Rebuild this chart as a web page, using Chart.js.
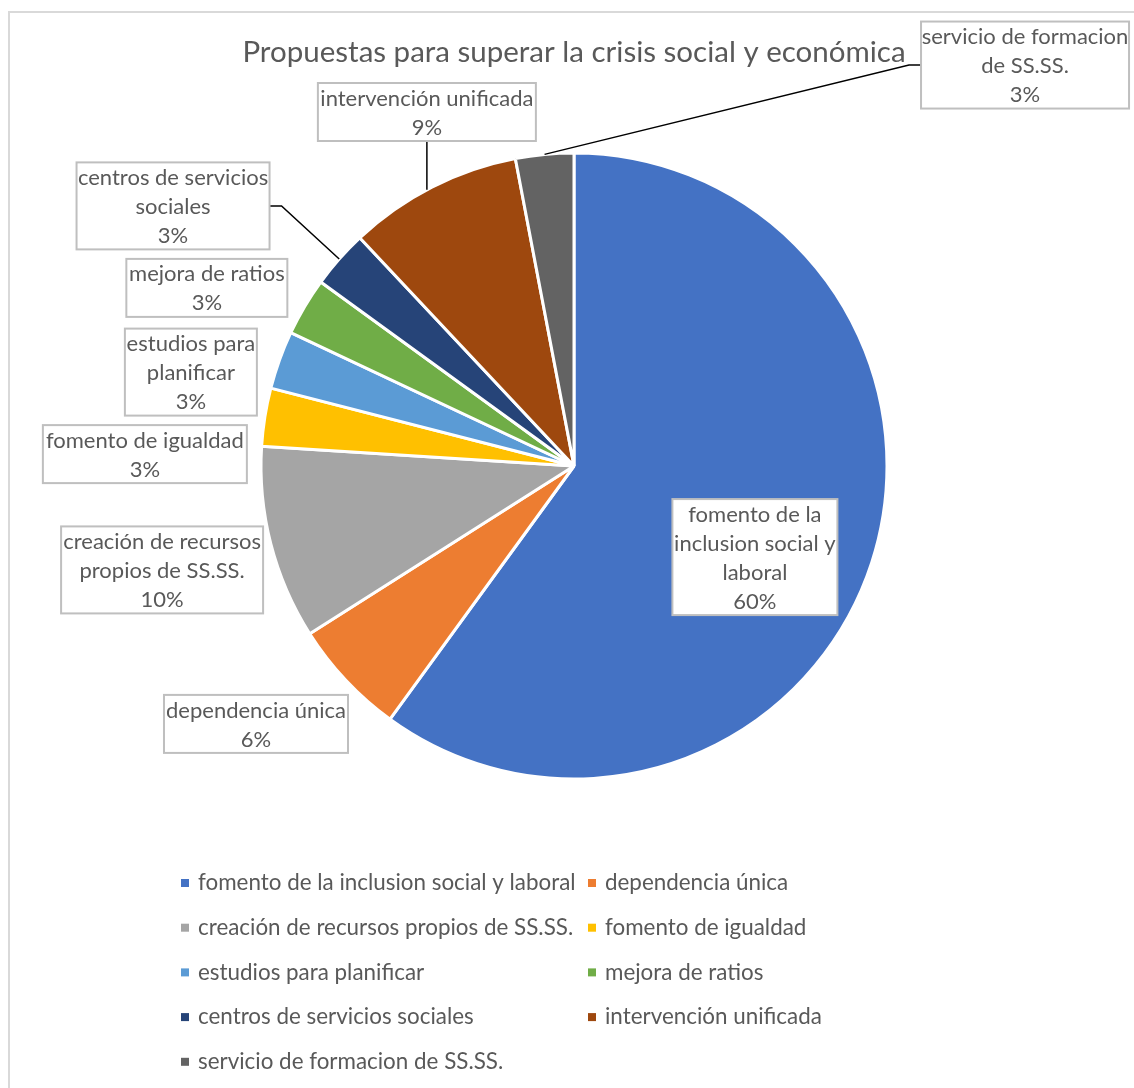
<!DOCTYPE html>
<html>
<head>
<meta charset="utf-8">
<script src="https://cdn.jsdelivr.net/npm/chart.js@4/dist/chart.umd.min.js"></script>
<style>
  html, body { margin: 0; padding: 0; background: #fff; }
</style>
</head>
<body>
<canvas id="pieChart" width="1134" height="1088"></canvas>
<script>
const titulo = "Propuestas para superar la crisis social y económica";
const categorias = [
    "fomento de la inclusion social y laboral",
    "dependencia única",
    "creación de recursos propios de SS.SS.",
    "fomento de igualdad",
    "estudios para planificar",
    "mejora de ratios",
    "centros de servicios sociales",
    "intervención unificada",
    "servicio de formacion de SS.SS."
];
const porcentajes = [60, 6, 10, 3, 3, 3, 3, 9, 3];
const colores = [
    "#4472C4", "#ED7D31", "#A5A5A5", "#FFC000", "#5B9BD5",
    "#70AD47", "#264478", "#9E480E", "#636363"
];

// cajas de etiqueta: centro relativo al radio, ancho, palabras por línea, tipo de guía
const cajas = [
    { dx: 0.578, dy: 0.291, w: 165, lineas: [3, 3, 1], guia: null },
    { dx: -1.016, dy: 0.824, w: 184, lineas: [2], guia: null },
    { dx: -1.316, dy: 0.332, w: 202, lineas: [3, 3], guia: null },
    { dx: -1.371, dy: -0.038, w: 204, lineas: [3], guia: null },
    { dx: -1.224, dy: -0.300, w: 132, lineas: [2, 1], guia: null },
    { dx: -1.173, dy: -0.569, w: 161, lineas: [3], guia: null },
    { dx: -1.281, dy: -0.831, w: 193, lineas: [3, 1], guia: "der" },
    { dx: -0.470, dy: -1.131, w: 218, lineas: [2], guia: "abajo" },
    { dx: 1.441, dy: -1.281, w: 208, lineas: [3, 2], guia: "izq" }
];

const FUENTE = "Lato, 'Open Sans', sans-serif";
const GRIS_TEXTO = "#595959";
const ALTO_LINEA = 29;

function partirLineas(texto, cortes) {
    const palabras = texto.split(" ");
    const out = [];
    let k = 0;
    cortes.forEach(n => {
        out.push(palabras.slice(k, k + n).join(" "));
        k += n;
    });
    return out;
}

const etiquetasPlugin = {
    id: "etiquetas",
    beforeDraw(chart) {
        const ctx = chart.ctx;
        ctx.save();
        ctx.strokeStyle = "#d9d9d9";
        ctx.lineWidth = 2;
        ctx.strokeRect(9, 12, 2000, 2000);
        ctx.fillStyle = GRIS_TEXTO;
        ctx.font = "29.5px " + FUENTE;
        ctx.textAlign = "center";
        ctx.textBaseline = "middle";
        ctx.fillText(titulo, 574, 52);
        ctx.restore();
    },
    afterDatasetsDraw(chart) {
        const ctx = chart.ctx;
        const meta = chart.getDatasetMeta(0);
        const datos = chart.data.datasets[0].data;
        const total = datos.reduce((a, b) => a + b, 0);
        ctx.save();
        meta.data.forEach((arc, i) => {
            const { x, y, outerRadius: r, startAngle, endAngle } = arc.getProps(["x", "y", "outerRadius", "startAngle", "endAngle"], true);
            const c = cajas[i];
            const lineas = partirLineas(chart.data.labels[i], c.lineas);
            lineas.push(Math.round(datos[i] / total * 100) + "%");
            const h = lineas.length * ALTO_LINEA;
            const bx = x + c.dx * r - c.w / 2;
            const by = y + c.dy * r - h / 2;

            // línea guía hacia el borde del sector
            if (c.guia) {
                const mid = (startAngle + endAngle) / 2;
                ctx.strokeStyle = "#000";
                ctx.lineWidth = 1.5;
                ctx.beginPath();
                if (c.guia === "abajo") {
                    const ax = bx + c.w / 2;
                    const ddx = ax - x;
                    ctx.moveTo(ax, by + h);
                    ctx.lineTo(ax, y - Math.sqrt(r * r - ddx * ddx));
                } else {
                    const lado = c.guia === "der" ? 1 : -1;
                    const ax = c.guia === "der" ? bx + c.w : bx;
                    const ay = by + h / 2;
                    ctx.moveTo(ax, ay);
                    ctx.lineTo(ax + lado * 12, ay);
                    ctx.lineTo(x + Math.cos(mid) * r, y + Math.sin(mid) * r);
                }
                ctx.stroke();
            }

            ctx.fillStyle = "#fff";
            ctx.fillRect(bx, by, c.w, h);
            ctx.strokeStyle = "#bfbfbf";
            ctx.lineWidth = 2;
            ctx.strokeRect(bx, by, c.w, h);

            ctx.fillStyle = GRIS_TEXTO;
            ctx.font = "22px " + FUENTE;
            ctx.textAlign = "center";
            ctx.textBaseline = "middle";
            lineas.forEach((t, j) => {
                ctx.fillText(t, bx + c.w / 2, by + ALTO_LINEA * (j + 0.5) + 1);
            });
        });
        ctx.restore();
    },
    afterDraw(chart) {
        // leyenda en dos columnas
        const ctx = chart.ctx;
        const fondos = chart.data.datasets[0].backgroundColor;
        ctx.save();
        ctx.font = "22.4px " + FUENTE;
        ctx.textBaseline = "middle";
        ctx.textAlign = "left";
        chart.data.labels.forEach((lab, i) => {
            const col = i % 2;
            const fila = Math.floor(i / 2);
            const tx = col === 0 ? 198 : 605;
            const ty = 883 + fila * 44.7;
            ctx.fillStyle = fondos[i];
            ctx.fillRect(tx - 17, ty - 4, 8, 8);
            ctx.fillStyle = GRIS_TEXTO;
            ctx.fillText(lab, tx, ty);
        });
        ctx.restore();
    }
};

new Chart(document.getElementById("pieChart").getContext("2d"), {
    type: "pie",
    data: {
        labels: categorias,
        datasets: [{
            data: porcentajes,
            backgroundColor: colores,
            borderColor: "#fff",
            borderWidth: 3
        }]
    },
    options: {
        responsive: false,
        animation: false,
        radius: 313,
        layout: { padding: { left: 100, right: 86, top: 100, bottom: 256 } },
        plugins: {
            legend: { display: false },
            tooltip: { enabled: false },
            title: { display: false }
        }
    },
    plugins: [etiquetasPlugin]
});
</script>
</body>
</html>
